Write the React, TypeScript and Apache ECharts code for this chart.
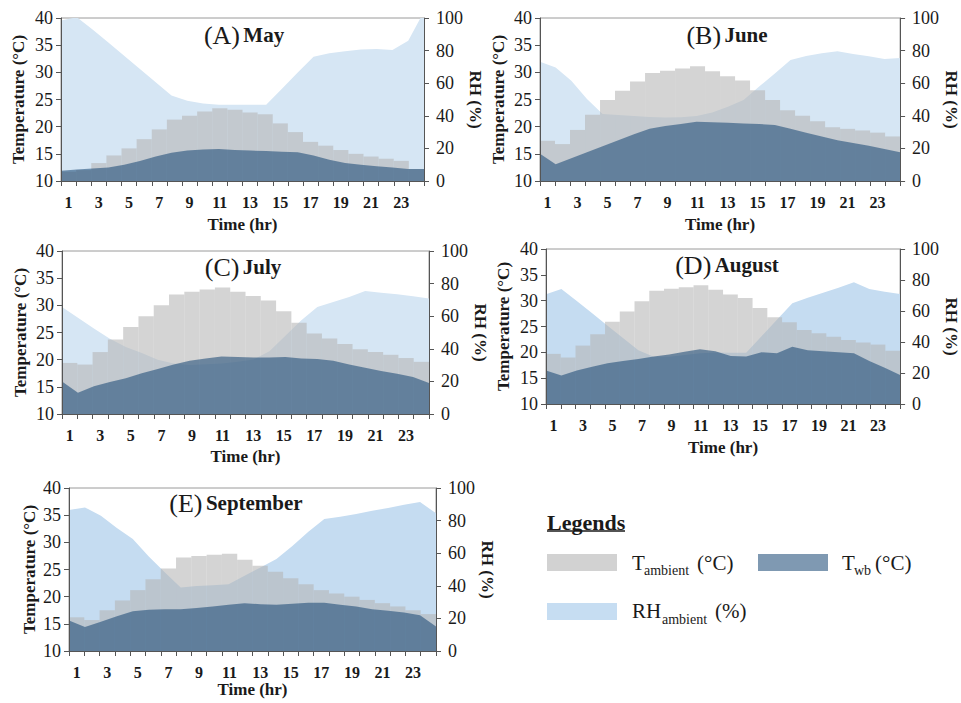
import React, { useEffect, useRef } from 'react';
import * as echarts from 'echarts';

const FONT = '"Liberation Serif", "Times New Roman", Times, serif';

const hours = ['1', '2', '3', '4', '5', '6', '7', '8', '9', '10', '11', '12', '13', '14', '15', '16', '17', '18', '19', '20', '21', '22', '23', '24'];
const tempTicks = { min: 10, max: 40, interval: 5 };
const rhTicks = { min: 0, max: 100, interval: 20 };

// (A) May
const mayTamb = [11.7, 12.0, 13.3, 14.7, 16.0, 17.7, 19.5, 21.3, 22.0, 22.8, 23.4, 23.1, 22.6, 22.3, 20.6, 19.0, 17.2, 16.5, 15.7, 15.0, 14.5, 14.1, 13.7, 12.2];
const mayTwb = [11.9, 12.1, 12.3, 12.5, 13.0, 13.7, 14.5, 15.2, 15.6, 15.8, 15.9, 15.7, 15.6, 15.5, 15.4, 15.3, 14.7, 13.9, 13.3, 13.0, 12.7, 12.5, 12.2, 12.2];
const mayRH = [98.4, 100.5, 93.0, 84.9, 76.8, 68.7, 60.6, 52.4, 49.3, 47.6, 46.8, 46.8, 46.8, 46.8, 56.6, 66.5, 76.3, 78.3, 79.6, 80.6, 81.0, 80.4, 86.0, 104.0];

// (B) June
const junTamb = [17.4, 16.8, 19.4, 22.2, 24.9, 26.6, 28.3, 29.9, 30.3, 30.7, 31.1, 30.2, 29.3, 28.5, 26.7, 24.9, 23.0, 22.0, 21.0, 19.9, 19.6, 19.3, 18.9, 18.2];
const junTwb = [15.0, 13.1, 14.2, 15.3, 16.4, 17.5, 18.6, 19.6, 20.1, 20.5, 20.9, 20.8, 20.7, 20.6, 20.5, 20.3, 19.6, 18.9, 18.2, 17.5, 17.0, 16.5, 15.9, 15.3];
const junRH = [73.2, 69.7, 61.5, 50.3, 41.1, 40.5, 39.9, 39.3, 38.9, 39.1, 39.9, 42.1, 45.6, 49.7, 57.9, 66.0, 74.2, 76.7, 78.3, 79.6, 77.9, 76.5, 74.8, 75.5];

// (C) July
const julTamb = [19.4, 19.1, 21.4, 23.7, 26.0, 28.0, 30.0, 32.0, 32.5, 32.9, 33.3, 32.5, 31.7, 30.9, 28.9, 26.8, 24.8, 23.9, 22.9, 21.9, 21.4, 20.9, 20.3, 19.6];
const julTwb = [16.0, 13.9, 15.1, 15.9, 16.6, 17.5, 18.3, 19.1, 19.8, 20.2, 20.6, 20.5, 20.4, 20.4, 20.5, 20.2, 20.1, 19.8, 19.1, 18.5, 17.9, 17.4, 16.8, 15.7];
const julRH = [65.6, 59.1, 52.4, 46.2, 41.1, 37.4, 33.3, 31.0, 30.0, 30.5, 31.0, 32.0, 33.5, 38.5, 48.0, 57.5, 65.6, 68.7, 71.8, 75.5, 74.4, 73.4, 72.2, 70.8];

// (D) August
const augTamb = [19.7, 19.0, 21.3, 23.5, 25.9, 27.9, 29.9, 31.9, 32.3, 32.6, 33.0, 32.1, 31.2, 30.5, 28.6, 26.8, 25.8, 24.3, 23.7, 23.0, 22.4, 21.9, 21.5, 20.3];
const augTwb = [16.5, 15.5, 16.5, 17.2, 17.9, 18.3, 18.7, 19.2, 19.6, 20.1, 20.6, 20.2, 19.3, 19.2, 20.0, 19.8, 21.1, 20.4, 20.2, 20.0, 19.8, 18.3, 17.0, 15.6];
const augRH = [70.8, 74.2, 66.5, 58.5, 50.5, 42.6, 34.6, 30.5, 30.5, 31.6, 32.7, 33.3, 33.1, 33.1, 43.7, 54.4, 65.0, 68.6, 71.8, 75.0, 78.5, 74.2, 72.5, 71.0];

// (E) September
const sepTamb = [16.2, 15.7, 17.5, 19.3, 21.2, 23.2, 25.2, 27.2, 27.5, 27.7, 27.9, 26.8, 25.7, 24.6, 23.4, 22.3, 21.2, 20.6, 20.0, 19.4, 18.8, 18.2, 17.5, 16.8];
const sepTwb = [15.6, 14.4, 15.4, 16.4, 17.3, 17.6, 17.7, 17.7, 17.9, 18.2, 18.5, 18.8, 18.6, 18.5, 18.7, 18.9, 18.9, 18.5, 18.2, 17.7, 17.4, 17.1, 16.6, 14.5];
const sepRH = [86.5, 88.1, 83.0, 75.5, 68.7, 57.9, 48.3, 39.0, 39.9, 40.3, 41.0, 46.2, 51.3, 56.4, 64.4, 73.2, 81.0, 82.4, 84.0, 86.1, 87.7, 89.8, 91.4, 84.5];

const panelLetters = ['(A)', '(B)', '(C)', '(D)', '(E)'];
const panelMonths = ['May', 'June', 'July', 'August', 'September'];
const tambSeries = [mayTamb, junTamb, julTamb, augTamb, sepTamb];
const twbSeries = [mayTwb, junTwb, julTwb, augTwb, sepTwb];
const rhSeries = [mayRH, junRH, julRH, augRH, sepRH];

const xName = 'Time (hr)';
const yLeftName = 'Temperature (°C)';
const yRightName = 'RH (%)';

// layout (pixels)
const layout = [
  { left: 61, top: 18, width: 363, height: 163, tx: 244, ty: 35, xGap: 35, lGap: 34, rGap: 37, rh: '#d6e6f4' },
  { left: 540, top: 18, width: 367, height: 163, tx: 727, ty: 35, xGap: 35, lGap: 33, rGap: 36, rh: '#d6e6f4' },
  { left: 62, top: 251, width: 367, height: 163, tx: 243, ty: 267, xGap: 34, lGap: 33, rGap: 35, rh: '#d6e6f4' },
  { left: 546, top: 249, width: 366, height: 155, tx: 727, ty: 265, xGap: 35, lGap: 34, rGap: 39, rh: '#c5dcf1' },
  { left: 69, top: 488, width: 367, height: 163, tx: 236, ty: 503, xGap: 30, lGap: 31, rGap: 38, rh: '#c5dcf1' },
];

const TEXT = '#1a1a1a';
const AXIS = '#555555';

export default function App() {
  const ref = useRef<HTMLDivElement>(null);
  useEffect(() => {
    if (!ref.current) return;
    const chart = echarts.init(ref.current, undefined, { renderer: 'svg' });
    const grid: any[] = [];
    const xAxis: any[] = [];
    const yAxis: any[] = [];
    const series: any[] = [];
    const graphic: any[] = [];
    layout.forEach((L, i) => {
      grid.push({ left: L.left, top: L.top, width: L.width, height: L.height, show: true, borderColor: '#9a9a9a', borderWidth: 1, backgroundColor: 'transparent' });
      xAxis.push({
        type: 'category', gridIndex: i, data: hours, boundaryGap: true, position: 'bottom', z: 10,
        axisLine: { show: true, onZero: false, lineStyle: { color: AXIS, width: 1 } },
        axisTick: { show: true, interval: 0, length: 5, lineStyle: { color: AXIS } },
        axisLabel: { interval: 1, margin: 13, fontSize: 16, fontWeight: 'bold', color: TEXT, fontFamily: FONT },
        splitLine: { show: false },
        name: xName, nameLocation: 'middle', nameGap: L.xGap,
        nameTextStyle: { fontSize: 17, fontWeight: 'bold', color: TEXT, fontFamily: FONT },
      });
      xAxis.push({ type: 'category', gridIndex: i, data: hours, boundaryGap: false, show: false, position: 'bottom' });
      yAxis.push({
        type: 'value', gridIndex: i, position: 'left', ...tempTicks, z: 10,
        axisLine: { show: true, lineStyle: { color: AXIS, width: 1 } },
        axisTick: { show: true, length: 5, lineStyle: { color: AXIS } },
        splitLine: { show: false },
        axisLabel: { fontSize: 18, color: TEXT, margin: 8, fontFamily: FONT },
        name: yLeftName, nameLocation: 'middle', nameGap: L.lGap, nameRotate: 90,
        nameTextStyle: { fontSize: 17, fontWeight: 'bold', color: TEXT, fontFamily: FONT },
      });
      yAxis.push({
        type: 'value', gridIndex: i, position: 'right', ...rhTicks, z: 10,
        axisLine: { show: true, lineStyle: { color: AXIS, width: 1 } },
        axisTick: { show: true, length: 5, lineStyle: { color: AXIS } },
        splitLine: { show: false },
        axisLabel: { fontSize: 18, color: TEXT, margin: 12, fontFamily: FONT },
        name: yRightName, nameLocation: 'middle', nameGap: L.rGap, nameRotate: -90,
        nameTextStyle: { fontSize: 17, fontWeight: 'bold', color: TEXT, fontFamily: FONT },
      });
      series.push({
        type: 'line', name: 'RH', xAxisIndex: 2 * i + 1, yAxisIndex: 2 * i + 1, data: rhSeries[i], z: 1,
        symbol: 'none', showSymbol: false, lineStyle: { width: 0 }, areaStyle: { color: L.rh, opacity: 1 }, silent: true,
      });
      series.push({
        type: 'bar', name: 'Tamb', xAxisIndex: 2 * i, yAxisIndex: 2 * i, data: tambSeries[i], z: 2,
        barWidth: '100%', barGap: '0%', itemStyle: { color: '#b4b4b4', opacity: 0.575 }, silent: true,
      });
      series.push({
        type: 'line', name: 'Twb', xAxisIndex: 2 * i + 1, yAxisIndex: 2 * i, data: twbSeries[i], z: 3,
        symbol: 'none', showSymbol: false, lineStyle: { width: 0 }, areaStyle: { color: '#124270', opacity: 0.54 }, silent: true,
      });
      graphic.push({
        type: 'text', x: L.tx, y: L.ty, z: 100,
        style: {
          text: `{r|${panelLetters[i]}} {b|${panelMonths[i]}}`,
          align: 'center', verticalAlign: 'middle',
          rich: {
            r: { fontSize: 26, fontFamily: FONT, fill: TEXT },
            b: { fontSize: 21, fontWeight: 'bold', fontFamily: FONT, fill: TEXT },
          },
        },
      });
    });

    // Legend
    const legendFont = (size: number, bold = false) => ({ fontSize: size, fontWeight: bold ? 'bold' : 'normal', fontFamily: FONT, fill: TEXT });
    graphic.push(
      { type: 'text', x: 547, y: 522, style: { text: 'Legends', ...legendFont(22, true), verticalAlign: 'middle' } },
      { type: 'line', shape: { x1: 547, y1: 531, x2: 625, y2: 531 }, style: { stroke: TEXT, lineWidth: 1.5 } },
      { type: 'rect', shape: { x: 547, y: 554, width: 70, height: 17 }, style: { fill: '#d2d2d2' } },
      { type: 'text', x: 632, y: 563, style: { text: 'T', ...legendFont(21), verticalAlign: 'middle' } },
      { type: 'text', x: 644, y: 570, style: { text: 'ambient', ...legendFont(14), verticalAlign: 'middle' } },
      { type: 'text', x: 697, y: 563, style: { text: '(°C)', ...legendFont(21), verticalAlign: 'middle' } },
      { type: 'rect', shape: { x: 758, y: 554, width: 70, height: 17 }, style: { fill: '#7f99b2' } },
      { type: 'text', x: 842, y: 563, style: { text: 'T', ...legendFont(21), verticalAlign: 'middle' } },
      { type: 'text', x: 854, y: 570, style: { text: 'wb', ...legendFont(14), verticalAlign: 'middle' } },
      { type: 'text', x: 875, y: 563, style: { text: '(°C)', ...legendFont(21), verticalAlign: 'middle' } },
      { type: 'rect', shape: { x: 547, y: 603, width: 70, height: 17 }, style: { fill: '#c6ddf2' } },
      { type: 'text', x: 632, y: 611, style: { text: 'RH', ...legendFont(21), verticalAlign: 'middle' } },
      { type: 'text', x: 662, y: 619, style: { text: 'ambient', ...legendFont(14), verticalAlign: 'middle' } },
      { type: 'text', x: 715, y: 611, style: { text: '(%)', ...legendFont(21), verticalAlign: 'middle' } },
    );

    chart.setOption({
      animation: false,
      backgroundColor: '#ffffff',
      textStyle: { fontFamily: FONT },
      grid, xAxis, yAxis, series, graphic,
    });
    return () => chart.dispose();
  }, []);
  return <div ref={ref} style={{ position: 'absolute', left: 0, top: 0, width: 961, height: 703 }} />;
}
